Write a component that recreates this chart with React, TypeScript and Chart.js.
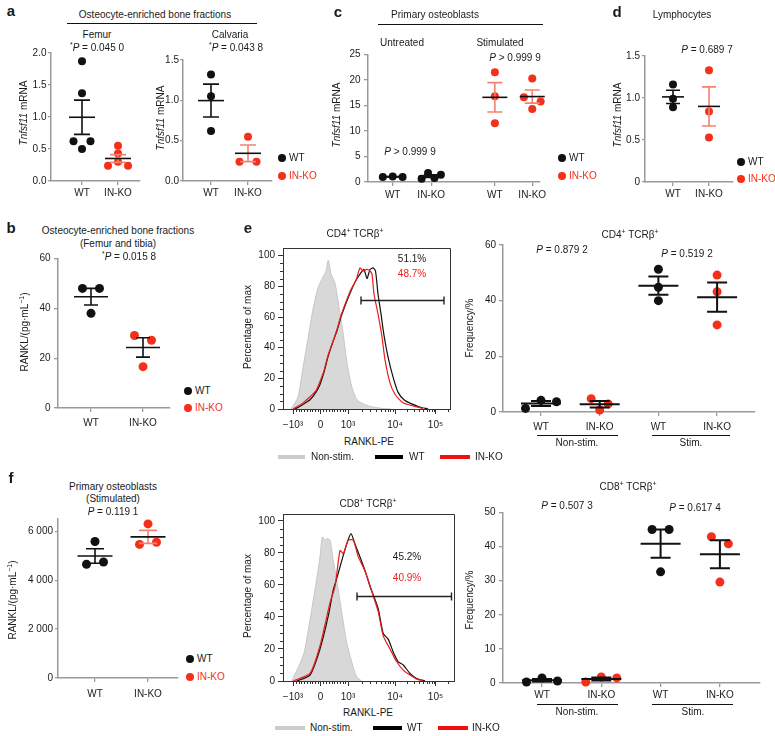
import React, { useEffect, useRef } from 'react';
import { Chart, registerables } from 'chart.js';

Chart.register(...registerables);

const FONT = '"Liberation Sans", Arial, Helvetica, sans-serif';
Chart.defaults.font.family = FONT;

const TXT = '#1a1a1a';
const BLACK = '#111111';
const RED = '#f4301a';
const RED_LIGHT = '#f2826f';
const AXIS = '#9a9a9a';
const FRAME = '#333333';

// ---------------- data ----------------
const pairCats = ['WT', 'IN-KO'];
const fourCats = ['WT', 'IN-KO', 'WT', 'IN-KO'];

const femurWT = [1.87, 1.37, 0.62, 0.5, 0.62];
const femurKO = [0.55, 0.43, 0.24, 0.3, 0.24];
const calvariaWT = [1.32, 1.05, 0.62];
const calvariaKO = [0.24, 0.55, 0.24];
const untreatedWT = [1.0, 1.1, 1.0];
const untreatedKO = [0.65, 1.75, 0.8, 1.4];
const stimulatedWT = [21.5, 16.8, 11.5];
const stimulatedKO = [20.3, 16.6, 15.8, 14.3];
const lymphWT = [1.16, 0.99, 0.89];
const lymphKO = [1.33, 0.84, 0.53];
const boneWT = [48, 48, 38];
const boneKO = [29.1, 16.6, 27.2];
const obStimWT = [4650, 5580, 4740];
const obStimKO = [5460, 6300, 5550];
const cd4NonStimWT = [1.3, 4.2, 3.7];
const cd4NonStimKO = [4.8, 0.7, 2.9];
const cd4StimWT = [51.3, 44.8, 40.0];
const cd4StimKO = [49.2, 43.2, 31.3];
const cd8NonStimWT = [0.3, 1.5, 0.6];
const cd8NonStimKO = [0.3, 1.75, 1.5];
const cd8StimWT = [45, 32.6, 45];
const cd8StimKO = [42.9, 29.6, 40.8];

const femurTicks = [0, 0.5, 1, 1.5, 2];
const calvariaTicks = [0, 0.5, 1, 1.5];
const cTicks = [0, 5, 10, 15, 20, 25];
const dTicks = [0, 0.5, 1, 1.5];
const bTicks = [0, 20, 40, 60];
const fTicks = [0, 2000, 4000, 6000];
const eFreqTicks = [0, 20, 40, 60];
const fFreqTicks = [0, 10, 20, 30, 40, 50];
const histYTicks = [0, 20, 40, 60, 80, 100];

// flow histograms (channel units along the RANKL-PE display axis, % of max)
const flowTickValues = [-1000, 0, 1000, 10000, 100000];
const flowTickLabels = ['\u221210\u00b3', '0', '10\u00b3', '10\u2074', '10\u2075'];

const cd4NonStimX = [8, 15, 20, 25, 30, 35, 40, 43, 45.3, 48, 52, 57, 60, 64, 69, 74, 84, 97, 108];
const cd4NonStimY = [0, 8, 27, 46, 65, 79, 86, 90, 97, 88, 82, 62, 50, 30, 14, 6, 2.3, 0.5, 0];
const cd4WTX = [12, 20, 27, 33, 37, 41, 45, 50, 54, 58, 63, 68, 73, 78, 81, 84, 87, 90, 92.5, 95, 98, 101, 105, 110, 115, 121, 128, 136, 145];
const cd4WTY = [0, 3, 6, 11, 16, 24, 34, 44, 51, 60, 69, 77, 84, 89, 91, 85, 91, 92, 90, 75, 62, 48, 34, 21, 11, 6, 3.5, 1.5, 0];
const cd4KOX = [10, 20, 27, 33, 37, 41, 45, 50, 54, 58, 63, 68, 73, 77, 80, 84, 87, 89, 91, 95, 99, 102, 107, 112, 120, 130, 140];
const cd4KOY = [0, 4, 8, 12, 18, 25, 35, 44, 52, 61, 70, 78, 84, 92, 90, 91, 90, 88, 75, 62, 47, 32, 17, 9.6, 4, 2, 0.4];
const cd4GateRange = [78, 161];
const cd4GateLevel = 71;

const cd8NonStimX = [8.7, 20.3, 25.3, 32, 37, 39.3, 42, 44, 47, 50.3, 53.7, 58.7, 63.7, 68.7, 73.7, 78.7];
const cd8NonStimY = [0, 16, 32, 57, 77.5, 90, 88, 89, 88, 75, 63, 43, 24, 12, 2.7, 0];
const cd8WTX = [13.7, 27, 37, 45.3, 50.3, 53.7, 58.7, 63.7, 68, 72, 77, 82, 87, 92, 95.3, 100.3, 105.3, 110.3, 115.3, 120.3, 127, 133.7, 142];
const cd8WTY = [0, 3.7, 20, 40.6, 57, 64, 75, 85.6, 92, 85.6, 77.5, 69, 59, 51, 45, 29.5, 26, 18, 12, 10, 4.7, 1.6, 0];
const cd8KOX = [10.3, 27, 37, 47, 52, 57, 60.3, 65.3, 70.3, 75.3, 80.3, 85.3, 90.3, 95.3, 100.3, 107, 113.7, 120.3, 127, 133.7, 140.3];
const cd8KOY = [0, 4.7, 22, 49, 59, 81.5, 79.5, 88, 88, 77.5, 71, 63, 53, 43, 28, 20, 12, 6.8, 3.7, 1.2, 0];
const cd8GateRange = [74, 168.5];
const cd8GateLevel = 53;

// ---------------- helpers ----------------
const flowAnchors: [number, number][] = [[-1000, 10], [0, 37.5], [1000, 65], [10000, 112], [100000, 152.5]];
function flowPos(v: number): number {
  const a = flowAnchors;
  if (v <= 1000) {
    const i = v <= 0 ? 0 : 1;
    const [v0, p0] = a[i];
    const [v1, p1] = a[i + 1];
    return p0 + ((v - v0) / (v1 - v0)) * (p1 - p0);
  }
  const lv = Math.log10(v);
  const i = v <= 10000 ? 2 : 3;
  const l0 = Math.log10(a[i][0]);
  const l1 = Math.log10(a[i + 1][0]);
  return a[i][1] + ((lv - l0) / (l1 - l0)) * (a[i + 1][1] - a[i][1]);
}
const flowMinor: number[] = [];
for (let k = 1; k <= 9; k++) { flowMinor.push(-k * 100); flowMinor.push(k * 100); }
for (let k = 2; k <= 9; k++) { flowMinor.push(k * 1000); flowMinor.push(k * 10000); }
flowMinor.push(200000);

function swarmOffsets(values: number[], thr: number, slotPx: number): number[] {
  const idx = values.map((_, i) => i).sort((a, b) => values[b] - values[a]);
  const offs = new Array(values.length).fill(0);
  let i = 0;
  while (i < idx.length) {
    const top = values[idx[i]];
    const members = [idx[i]];
    let j = i + 1;
    while (j < idx.length && top - values[idx[j]] < thr) { members.push(idx[j]); j++; }
    members.sort((a, b) => a - b);
    const n = members.length;
    members.forEach((m, k) => {
      if (n === 2) offs[m] = k === 0 ? -8.5 : 8.5;
      else if (n > 2) offs[m] = (k - (n - 1) / 2) * slotPx * (n === 3 ? 1 : 0.65);
    });
    i = j;
  }
  return offs;
}

type Group = { pos: number; values: number[]; color: string; err: string };
type ScatterSpec = {
  x0: number; xEnd: number; yTop: number; yBot: number;
  catPx: number; ppu: number;
  yMax: number; yTicks: number[]; yFmt: (v: number) => string;
  catPos: number[]; catLabels: string[];
  groups: Group[];
  slotPx: number; radius: number; meanHalf: number; capHalf: number; lw: number;
  xLabelPad: number; yTickLen: number; yLabelPad: number;
};

function ScatterPanel({ spec }: { spec: ScatterSpec }) {
  const ref = useRef<HTMLCanvasElement>(null);
  const yAxisW = 42, xAxisH = 24, padTop = 8, padRight = 8;
  const left = spec.x0 - yAxisW;
  const top = spec.yTop - padTop;
  const width = spec.xEnd - spec.x0 + yAxisW + padRight;
  const height = spec.yBot - spec.yTop + padTop + xAxisH;
  useEffect(() => {
    if (!ref.current) return;
    const xMin = 1 - (spec.catPx - spec.x0) / spec.ppu;
    const xMax = 1 + (spec.xEnd - spec.catPx) / spec.ppu;
    const thr = 0.05 * spec.yMax;
    const datasets = spec.groups.map((g) => {
      const offs = swarmOffsets(g.values, thr, spec.slotPx);
      return {
        data: g.values.map((v, i) => ({ x: g.pos + offs[i] / spec.ppu, y: v })),
        backgroundColor: g.color,
        borderWidth: 0,
        pointRadius: spec.radius,
        pointHoverRadius: spec.radius,
        clip: false as any,
      };
    });
    const meanSem = {
      id: 'meanSem',
      afterDatasetsDraw(chart: any) {
        const ctx = chart.ctx;
        const xs = chart.scales.x, ys = chart.scales.y;
        spec.groups.forEach((g) => {
          const n = g.values.length;
          const m = g.values.reduce((a, b) => a + b, 0) / n;
          const sd = Math.sqrt(g.values.reduce((a, b) => a + (b - m) * (b - m), 0) / (n - 1));
          const sem = sd / Math.sqrt(n);
          const px = xs.getPixelForValue(g.pos);
          const yM = ys.getPixelForValue(m);
          const yH = ys.getPixelForValue(m + sem);
          const yL = ys.getPixelForValue(m - sem);
          ctx.save();
          ctx.lineWidth = spec.lw;
          ctx.strokeStyle = g.err;
          ctx.beginPath();
          ctx.moveTo(px, yH); ctx.lineTo(px, yL);
          ctx.moveTo(px - spec.capHalf, yH); ctx.lineTo(px + spec.capHalf, yH);
          ctx.moveTo(px - spec.capHalf, yL); ctx.lineTo(px + spec.capHalf, yL);
          ctx.stroke();
          ctx.strokeStyle = BLACK;
          ctx.beginPath();
          ctx.moveTo(px - spec.meanHalf, yM); ctx.lineTo(px + spec.meanHalf, yM);
          ctx.stroke();
          ctx.restore();
        });
      },
    };
    const chart = new Chart(ref.current, {
      type: 'scatter',
      data: { datasets: datasets as any },
      options: {
        responsive: false,
        animation: false,
        events: [],
        layout: { padding: { top: padTop, right: padRight, left: 0, bottom: 0 }, autoPadding: false } as any,
        plugins: { legend: { display: false }, tooltip: { enabled: false } },
        scales: {
          x: {
            type: 'linear', min: xMin, max: xMax,
            afterBuildTicks: (s: any) => { s.ticks = spec.catPos.map((p) => ({ value: p })); },
            afterFit: (s: any) => { s.height = xAxisH; },
            ticks: {
              callback: (v: any) => { const i = spec.catPos.findIndex((p) => Math.abs(p - v) < 1e-6); return i >= 0 ? spec.catLabels[i] : ''; },
              color: TXT, font: { family: FONT, size: 10 }, padding: spec.xLabelPad, maxRotation: 0, autoSkip: false,
            },
            grid: { drawOnChartArea: false, drawTicks: true, tickLength: 4, color: AXIS, lineWidth: 1.3 },
            border: { color: AXIS, width: 1.5 },
          },
          y: {
            type: 'linear', min: 0, max: spec.yMax,
            afterBuildTicks: (s: any) => { s.ticks = spec.yTicks.map((v) => ({ value: v })); },
            afterFit: (s: any) => { s.width = yAxisW; },
            ticks: { callback: (v: any) => spec.yFmt(Number(v)), color: TXT, font: { family: FONT, size: 10 }, padding: spec.yLabelPad, autoSkip: false },
            grid: { drawOnChartArea: false, drawTicks: true, tickLength: spec.yTickLen, color: AXIS, lineWidth: 1.3 },
            border: { color: AXIS, width: 1.5 },
          },
        },
      },
      plugins: [meanSem],
    });
    return () => chart.destroy();
  }, []);
  return <canvas ref={ref} width={width} height={height} style={{ position: 'absolute', left, top, width, height }} />;
}

type HistSpec = {
  left: number; right: number; top: number; bottom: number; yMax: number; xMax: number;
  bgX: number[]; bgY: number[]; wtX: number[]; wtY: number[]; koX: number[]; koY: number[];
  gate: number[]; gateLevel: number;
};

function HistPanel({ spec }: { spec: HistSpec }) {
  const ref = useRef<HTMLCanvasElement>(null);
  const yAxisW = 45, xAxisH = 26, padTop = 6, padRight = 6;
  const left = spec.left - yAxisW;
  const top = spec.top - padTop;
  const width = spec.right - spec.left + yAxisW + padRight;
  const height = spec.bottom - spec.top + padTop + xAxisH;
  useEffect(() => {
    if (!ref.current) return;
    const zip = (xs: number[], ys: number[]) => xs.map((x, i) => ({ x, y: ys[i] }));
    const extras = {
      id: 'flowExtras',
      afterDatasetsDraw(chart: any) {
        const ctx = chart.ctx;
        const a = chart.chartArea;
        const xs = chart.scales.x, ys = chart.scales.y;
        ctx.save();
        ctx.strokeStyle = FRAME;
        ctx.lineWidth = 1;
        ctx.beginPath();
        ctx.moveTo(a.left, a.top + 0.5); ctx.lineTo(a.right + 0.5, a.top + 0.5); ctx.lineTo(a.right + 0.5, a.bottom);
        ctx.stroke();
        ctx.beginPath();
        flowMinor.forEach((v) => {
          const p = flowPos(v);
          if (p <= 0 || p >= spec.xMax) return;
          const px = Math.round(xs.getPixelForValue(p)) + 0.5;
          ctx.moveTo(px, a.bottom); ctx.lineTo(px, a.bottom + 3);
        });
        for (let v = 5; v <= 100; v += 5) {
          if (v % 20 === 0) continue;
          const py = Math.round(ys.getPixelForValue(v)) + 0.5;
          ctx.moveTo(a.left - 3, py); ctx.lineTo(a.left, py);
        }
        ctx.stroke();
        const gy = Math.round(ys.getPixelForValue(spec.gateLevel)) + 0.5;
        const g0 = xs.getPixelForValue(spec.gate[0]);
        const g1 = xs.getPixelForValue(spec.gate[1]);
        ctx.strokeStyle = '#222';
        ctx.lineWidth = 1.4;
        ctx.beginPath();
        ctx.moveTo(g0, gy); ctx.lineTo(g1, gy);
        ctx.moveTo(g0, gy - 4); ctx.lineTo(g0, gy + 4);
        ctx.moveTo(g1, gy - 4); ctx.lineTo(g1, gy + 4);
        ctx.stroke();
        ctx.restore();
      },
    };
    const chart = new Chart(ref.current, {
      type: 'scatter',
      data: {
        datasets: [
          { data: zip(spec.bgX, spec.bgY), order: 3, showLine: true, fill: 'origin', backgroundColor: '#d8d8d8', borderColor: '#c6c6c6', borderWidth: 1, pointRadius: 0, tension: 0.25 },
          { data: zip(spec.wtX, spec.wtY), order: 2, showLine: true, fill: false, borderColor: '#111', borderWidth: 1.2, pointRadius: 0, tension: 0.2 },
          { data: zip(spec.koX, spec.koY), order: 1, showLine: true, fill: false, borderColor: '#ee1c1c', borderWidth: 1.2, pointRadius: 0, tension: 0.2 },
        ] as any,
      },
      options: {
        responsive: false,
        animation: false,
        events: [],
        layout: { padding: { top: padTop, right: padRight, left: 0, bottom: 0 }, autoPadding: false } as any,
        plugins: { legend: { display: false }, tooltip: { enabled: false } },
        scales: {
          x: {
            type: 'linear', min: 0, max: spec.xMax,
            afterBuildTicks: (s: any) => { s.ticks = flowTickValues.map((v) => ({ value: flowPos(v) })); },
            afterFit: (s: any) => { s.height = xAxisH; },
            ticks: { callback: (_v: any, i: number) => flowTickLabels[i], color: TXT, font: { family: FONT, size: 10 }, padding: 5, maxRotation: 0, autoSkip: false },
            grid: { drawOnChartArea: false, drawTicks: true, tickLength: 5, color: FRAME, lineWidth: 1 },
            border: { color: FRAME, width: 1 },
          },
          y: {
            type: 'linear', min: 0, max: spec.yMax,
            afterBuildTicks: (s: any) => { s.ticks = histYTicks.map((v) => ({ value: v })); },
            afterFit: (s: any) => { s.width = yAxisW; },
            ticks: { callback: (v: any) => String(v), color: TXT, font: { family: FONT, size: 10 }, padding: 3, autoSkip: false },
            grid: { drawOnChartArea: false, drawTicks: true, tickLength: 5, color: FRAME, lineWidth: 1 },
            border: { color: FRAME, width: 1 },
          },
        },
      },
      plugins: [extras],
    });
    return () => chart.destroy();
  }, []);
  return <canvas ref={ref} width={width} height={height} style={{ position: 'absolute', left, top, width, height }} />;
}

// ---------------- text helpers ----------------
function Txt(props: { x: number; y: number; children: any; size?: number; color?: string; align?: 'center' | 'left'; bold?: boolean }) {
  const { x, y, children, size = 10, color = TXT, align = 'center', bold = false } = props;
  return (
    <div style={{ position: 'absolute', left: x, top: y, transform: align === 'center' ? 'translate(-50%,-50%)' : 'translate(0,-50%)', fontFamily: FONT, fontSize: size, color, fontWeight: bold ? 'bold' : 'normal', whiteSpace: 'nowrap', lineHeight: 1 }}>
      {children}
    </div>
  );
}
function YTitle(props: { x: number; y: number; children: any }) {
  return (
    <div style={{ position: 'absolute', left: props.x, top: props.y, transform: 'translate(-50%,-50%) rotate(-90deg)', fontFamily: FONT, fontSize: 10, color: TXT, whiteSpace: 'nowrap', lineHeight: 1 }}>
      {props.children}
    </div>
  );
}
const Sup = ({ children }: { children: any }) => <span style={{ fontSize: 7, position: 'relative', top: -4 }}>{children}</span>;
const HLine = ({ x1, x2, y }: { x1: number; x2: number; y: number }) => (
  <div style={{ position: 'absolute', left: x1, top: y, width: x2 - x1, height: 1, background: '#111' }} />
);
const Dot = ({ x, y, color }: { x: number; y: number; color: string }) => (
  <div style={{ position: 'absolute', left: x - 4, top: y - 4, width: 8, height: 8, borderRadius: '50%', background: color }} />
);
const Swatch = ({ x1, x2, y, color }: { x1: number; x2: number; y: number; color: string }) => (
  <div style={{ position: 'absolute', left: x1, top: y - 2, width: x2 - x1, height: 4, background: color }} />
);
const Legend = ({ x, y1, y2 }: { x: number; y1: number; y2: number }) => (
  <>
    <Dot x={x} y={y1} color={BLACK} />
    <Txt x={x + 7} y={y1} align="left">WT</Txt>
    <Dot x={x} y={y2} color={RED} />
    <Txt x={x + 7} y={y2} align="left" color={RED}>IN-KO</Txt>
  </>
);
const Tnf = () => (<span><i>Tnfsf11</i> mRNA</span>);
const Rankl = () => (<span>RANKL/(pg·mL<Sup>−1</Sup>)</span>);
const StarP = ({ v }: { v: string }) => (<span><Sup>*</Sup><i>P</i> = {v}</span>);
const PP = ({ op, v }: { op: string; v: string }) => (<span><i>P</i> {op} {v}</span>);
const CD = ({ n }: { n: string }) => (<span>CD{n}<Sup>+</Sup> TCRβ<Sup>+</Sup></span>);

const fmt1 = (v: number) => v.toFixed(1);
const fmtInt = (v: number) => String(v);

const specs: Record<string, ScatterSpec> = {
  femur: {
    x0: 51, xEnd: 140, yTop: 53, yBot: 181, catPx: 82, ppu: 36, yMax: 2, yTicks: femurTicks, yFmt: fmt1,
    catPos: [1, 2], catLabels: pairCats,
    groups: [
      { pos: 1, values: femurWT, color: BLACK, err: BLACK },
      { pos: 2, values: femurKO, color: RED, err: RED_LIGHT },
    ],
    slotPx: 10, radius: 4, meanHalf: 13, capHalf: 8, lw: 1.6, xLabelPad: 2.5, yTickLen: 3, yLabelPad: 1.5,
  },
  calvaria: {
    x0: 183, xEnd: 272, yTop: 60, yBot: 181, catPx: 211, ppu: 37, yMax: 1.5, yTicks: calvariaTicks, yFmt: fmt1,
    catPos: [1, 2], catLabels: pairCats,
    groups: [
      { pos: 1, values: calvariaWT, color: BLACK, err: BLACK },
      { pos: 2, values: calvariaKO, color: RED, err: RED_LIGHT },
    ],
    slotPx: 10, radius: 4, meanHalf: 13, capHalf: 8, lw: 1.6, xLabelPad: 2.5, yTickLen: 3, yLabelPad: 1,
  },
  c: {
    x0: 368, xEnd: 542, yTop: 53, yBot: 182, catPx: 393, ppu: 39, yMax: 25, yTicks: cTicks, yFmt: fmtInt,
    catPos: [1, 2, 3.65, 4.62], catLabels: fourCats,
    groups: [
      { pos: 1, values: untreatedWT, color: BLACK, err: BLACK },
      { pos: 2, values: untreatedKO, color: BLACK, err: BLACK },
      { pos: 3.65, values: stimulatedWT, color: RED, err: RED_LIGHT },
      { pos: 4.62, values: stimulatedKO, color: RED, err: RED_LIGHT },
    ],
    slotPx: 10, radius: 4, meanHalf: 12.5, capHalf: 7.5, lw: 1.6, xLabelPad: 3.5, yTickLen: 4, yLabelPad: 3.5,
  },
  d: {
    x0: 645, xEnd: 733, yTop: 56, yBot: 182, catPx: 673, ppu: 36, yMax: 1.5, yTicks: dTicks, yFmt: (v) => (v === 0 ? '0' : v.toFixed(1)),
    catPos: [1, 2], catLabels: pairCats,
    groups: [
      { pos: 1, values: lymphWT, color: BLACK, err: BLACK },
      { pos: 2, values: lymphKO, color: RED, err: RED_LIGHT },
    ],
    slotPx: 10, radius: 4, meanHalf: 11, capHalf: 7, lw: 1.6, xLabelPad: 2.5, yTickLen: 3, yLabelPad: 2,
  },
  b: {
    x0: 58, xEnd: 170, yTop: 257, yBot: 408, catPx: 91, ppu: 52, yMax: 60, yTicks: bTicks, yFmt: fmtInt,
    catPos: [1, 2], catLabels: pairCats,
    groups: [
      { pos: 1, values: boneWT, color: BLACK, err: BLACK },
      { pos: 2, values: boneKO, color: RED, err: BLACK },
    ],
    slotPx: 10, radius: 4.5, meanHalf: 17, capHalf: 7, lw: 1.6, xLabelPad: 5.5, yTickLen: 4, yLabelPad: 3.5,
  },
  fLeft: {
    x0: 58, xEnd: 178, yTop: 519, yBot: 678, catPx: 95, ppu: 53, yMax: 6500, yTicks: fTicks, yFmt: (v) => (v === 0 ? '0' : `${v / 1000} 000`),
    catPos: [1, 2], catLabels: pairCats,
    groups: [
      { pos: 1, values: obStimWT, color: BLACK, err: BLACK },
      { pos: 2, values: obStimKO, color: RED, err: RED_LIGHT },
    ],
    slotPx: 10, radius: 4.5, meanHalf: 17.5, capHalf: 9, lw: 1.6, xLabelPad: 6.5, yTickLen: 3, yLabelPad: 2,
  },
  eRight: {
    x0: 503, xEnd: 755, yTop: 244, yBot: 412, catPx: 541, ppu: 58.7, yMax: 60, yTicks: eFreqTicks, yFmt: fmtInt,
    catPos: [1, 2, 3, 4], catLabels: fourCats,
    groups: [
      { pos: 1, values: cd4NonStimWT, color: BLACK, err: BLACK },
      { pos: 2, values: cd4NonStimKO, color: RED, err: BLACK },
      { pos: 3, values: cd4StimWT, color: BLACK, err: BLACK },
      { pos: 4, values: cd4StimKO, color: RED, err: BLACK },
    ],
    slotPx: 15.5, radius: 4.5, meanHalf: 20, capHalf: 10, lw: 2, xLabelPad: 4.8, yTickLen: 4, yLabelPad: 3,
  },
  fRight: {
    x0: 503, xEnd: 760, yTop: 511, yBot: 683, catPx: 542, ppu: 59.3, yMax: 50, yTicks: fFreqTicks, yFmt: fmtInt,
    catPos: [1, 2, 3, 4], catLabels: fourCats,
    groups: [
      { pos: 1, values: cd8NonStimWT, color: BLACK, err: BLACK },
      { pos: 2, values: cd8NonStimKO, color: RED, err: BLACK },
      { pos: 3, values: cd8StimWT, color: BLACK, err: BLACK },
      { pos: 4, values: cd8StimKO, color: RED, err: BLACK },
    ],
    slotPx: 15.5, radius: 4.5, meanHalf: 20, capHalf: 10, lw: 2, xLabelPad: 2.5, yTickLen: 4, yLabelPad: 3.5,
  },
};

const cd4Hist: HistSpec = {
  left: 283, right: 450, top: 245, bottom: 409, yMax: 105, xMax: 167,
  bgX: cd4NonStimX, bgY: cd4NonStimY, wtX: cd4WTX, wtY: cd4WTY, koX: cd4KOX, koY: cd4KOY,
  gate: cd4GateRange, gateLevel: cd4GateLevel,
};
const cd8Hist: HistSpec = {
  left: 283, right: 454, top: 511, bottom: 681, yMax: 104.3, xMax: 171,
  bgX: cd8NonStimX, bgY: cd8NonStimY, wtX: cd8WTX, wtY: cd8WTY, koX: cd8KOX, koY: cd8KOY,
  gate: cd8GateRange, gateLevel: cd8GateLevel,
};

export default function App() {
  return (
    <div style={{ position: 'fixed', left: 0, top: 0, width: 775, height: 736, background: '#fff', overflow: 'hidden' }}>
      <ScatterPanel spec={specs.femur} />
      <ScatterPanel spec={specs.calvaria} />
      <ScatterPanel spec={specs.c} />
      <ScatterPanel spec={specs.d} />
      <ScatterPanel spec={specs.b} />
      <ScatterPanel spec={specs.fLeft} />
      <ScatterPanel spec={specs.eRight} />
      <ScatterPanel spec={specs.fRight} />
      <HistPanel spec={cd4Hist} />
      <HistPanel spec={cd8Hist} />

      {/* panel a */}
      <Txt x={11} y={10} size={15} bold>a</Txt>
      <Txt x={155} y={15}>Osteocyte-enriched bone fractions</Txt>
      <HLine x1={67} x2={257} y={23} />
      <Txt x={97} y={35}>Femur</Txt>
      <Txt x={97} y={48}><StarP v="0.045 0" /></Txt>
      <Txt x={230} y={35}>Calvaria</Txt>
      <Txt x={236} y={48}><StarP v="0.043 8" /></Txt>
      <YTitle x={24} y={113}><Tnf /></YTitle>
      <YTitle x={161} y={118}><Tnf /></YTitle>
      <Legend x={282} y1={158} y2={176} />

      {/* panel c */}
      <Txt x={338} y={11} size={15} bold>c</Txt>
      <Txt x={435} y={15}>Primary osteoblasts</Txt>
      <HLine x1={378} x2={543} y={24} />
      <Txt x={402} y={43}>Untreated</Txt>
      <Txt x={500} y={43}>Stimulated</Txt>
      <YTitle x={337} y={115}><Tnf /></YTitle>
      <Txt x={410} y={152}><PP op=">" v="0.999 9" /></Txt>
      <Txt x={515} y={58}><PP op=">" v="0.999 9" /></Txt>
      <Legend x={562} y1={158} y2={176} />

      {/* panel d */}
      <Txt x={617} y={11} size={15} bold>d</Txt>
      <Txt x={682} y={15}>Lymphocytes</Txt>
      <YTitle x={618} y={115}><Tnf /></YTitle>
      <Txt x={707} y={50}><PP op="=" v="0.689 7" /></Txt>
      <Legend x={741} y1={162} y2={179} />

      {/* panel b */}
      <Txt x={11} y={227} size={15} bold>b</Txt>
      <Txt x={118} y={231}>Osteocyte-enriched bone fractions</Txt>
      <Txt x={118} y={244}>(Femur and tibia)</Txt>
      <Txt x={129} y={257}><StarP v="0.015 8" /></Txt>
      <YTitle x={25} y={332}><Rankl /></YTitle>
      <Legend x={188} y1={391} y2={408} />

      {/* panel e */}
      <Txt x={248} y={227} size={15} bold>e</Txt>
      <Txt x={355} y={234}><CD n="4" /></Txt>
      <Txt x={630} y={235}><CD n="4" /></Txt>
      <YTitle x={248} y={327}>Percentage of max</YTitle>
      <Txt x={412} y={259}>51.1%</Txt>
      <Txt x={412} y={274} color="#f21b1b">48.7%</Txt>
      <Txt x={369} y={442}>RANKL-PE</Txt>
      <Swatch x1={278} x2={305} y={457} color="#cccccc" />
      <Txt x={311} y={457} align="left">Non-stim.</Txt>
      <Swatch x1={375} x2={403} y={457} color="#000" />
      <Txt x={409} y={457} align="left">WT</Txt>
      <Swatch x1={440} x2={470} y={457} color="#f01010" />
      <Txt x={475} y={457} align="left">IN-KO</Txt>
      <YTitle x={470} y={328}>Frequency/%</YTitle>
      <Txt x={562} y={250}><PP op="=" v="0.879 2" /></Txt>
      <Txt x={687} y={254}><PP op="=" v="0.519 2" /></Txt>
      <HLine x1={537} x2={618} y={435} />
      <HLine x1={652} x2={730} y={435} />
      <Txt x={577} y={443}>Non-stim.</Txt>
      <Txt x={691} y={443}>Stim.</Txt>

      {/* panel f */}
      <Txt x={11} y={477} size={15} bold>f</Txt>
      <Txt x={113} y={487}>Primary osteoblasts</Txt>
      <Txt x={113} y={499}>(Stimulated)</Txt>
      <Txt x={113} y={512}><PP op="=" v="0.119 1" /></Txt>
      <YTitle x={13} y={600}><Rankl /></YTitle>
      <Legend x={190} y1={659} y2={677} />
      <Txt x={368} y={504}><CD n="8" /></Txt>
      <YTitle x={248} y={596}>Percentage of max</YTitle>
      <Txt x={407} y={557}>45.2%</Txt>
      <Txt x={407} y={578} color="#f21b1b">40.9%</Txt>
      <Txt x={368} y={713}>RANKL-PE</Txt>
      <Swatch x1={275} x2={305} y={728} color="#cccccc" />
      <Txt x={310} y={728} align="left">Non-stim.</Txt>
      <Swatch x1={373} x2={402} y={728} color="#000" />
      <Txt x={407} y={728} align="left">WT</Txt>
      <Swatch x1={438} x2={468} y={728} color="#f01010" />
      <Txt x={472} y={728} align="left">IN-KO</Txt>
      <Txt x={628} y={487}><CD n="8" /></Txt>
      <YTitle x={470} y={600}>Frequency/%</YTitle>
      <Txt x={567} y={506}><PP op="=" v="0.507 3" /></Txt>
      <Txt x={695} y={508}><PP op="=" v="0.617 4" /></Txt>
      <HLine x1={537} x2={618} y={704} />
      <HLine x1={652} x2={733} y={704} />
      <Txt x={577} y={712}>Non-stim.</Txt>
      <Txt x={693} y={712}>Stim.</Txt>
    </div>
  );
}
